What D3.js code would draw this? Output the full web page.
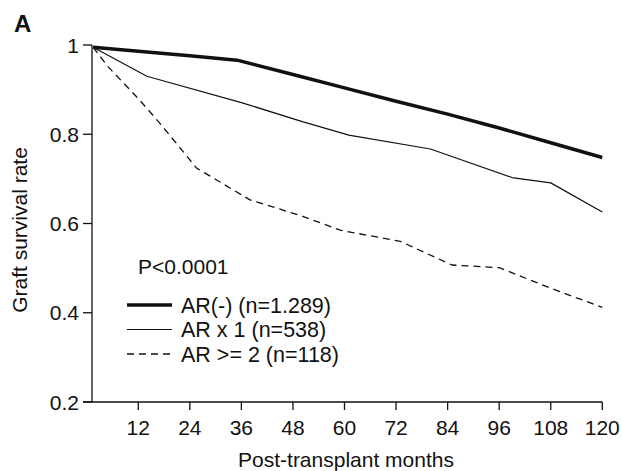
<html>
<head>
    <script src="https://d3js.org/d3.v7.min.js"></script>
</head>
<style>
body { margin: 0; background: #fff; }
text { font-family: "Liberation Sans", Arial, sans-serif; fill: #111; }
</style>
<body>
<script>
// data
var xTicks = [12, 24, 36, 48, 60, 72, 84, 96, 108, 120];
var yTicks = [0.2, 0.4, 0.6, 0.8, 1];

var noneMonths = [1.5, 12, 24, 35, 48, 60, 72, 84, 96, 108, 120];
var noneSurv   = [0.995, 0.986, 0.976, 0.966, 0.934, 0.904, 0.874, 0.845, 0.814, 0.781, 0.748];

var oneMonths = [1.5, 14, 36, 50, 61, 80, 99, 108, 120];
var oneSurv   = [0.995, 0.930, 0.871, 0.829, 0.798, 0.767, 0.703, 0.691, 0.626];

var twoMonths = [1.5, 5, 12, 17, 25.6, 38, 50, 59, 73, 85, 96, 108, 120];
var twoSurv   = [0.995, 0.951, 0.880, 0.825, 0.724, 0.653, 0.617, 0.585, 0.560, 0.507, 0.501, 0.455, 0.412];

var legendLabels = ["AR(-) (n=1.289)", "AR x 1 (n=538)", "AR >= 2 (n=118)"];

var w = 623, h = 471;
var svg = d3.select("body").append("svg").attr("width", w).attr("height", h);

var xScale = d3.scaleLinear().domain([0, 120]).range([86.7, 602.3]);
var yScale = d3.scaleLinear().domain([0.2, 1]).range([402, 45]);
var axisX = 92; // y axis sits a bit right of month 0

// x axis
var xAxis = svg.append("g").attr("transform", "translate(0,402)");
xAxis.append("line").attr("x1", 83).attr("x2", xScale(120)).attr("y1", 0).attr("y2", 0)
    .attr("stroke", "#111").attr("stroke-width", 1.3);
xAxis.selectAll(".xt").data(xTicks).enter().append("line")
    .attr("x1", function(d){ return xScale(d); }).attr("x2", function(d){ return xScale(d); })
    .attr("y1", 0).attr("y2", 8).attr("stroke", "#111").attr("stroke-width", 1.3);
xAxis.selectAll(".xl").data(xTicks).enter().append("text")
    .attr("x", function(d){ return xScale(d); }).attr("y", 33)
    .attr("text-anchor", "middle").style("font-size", "21px")
    .text(function(d){ return d; });

// y axis
var yAxis = svg.append("g");
yAxis.append("line").attr("x1", axisX).attr("x2", axisX).attr("y1", yScale(1)).attr("y2", yScale(0.2))
    .attr("stroke", "#111").attr("stroke-width", 1.3);
yAxis.selectAll(".yt").data(yTicks).enter().append("line")
    .attr("x1", 83).attr("x2", axisX)
    .attr("y1", function(d){ return yScale(d); }).attr("y2", function(d){ return yScale(d); })
    .attr("stroke", "#111").attr("stroke-width", 1.3);
yAxis.selectAll(".yl").data(yTicks).enter().append("text")
    .attr("x", 79).attr("y", function(d){ return yScale(d); }).attr("dy", ".36em")
    .attr("text-anchor", "end").style("font-size", "21px")
    .text(function(d){ return d; });

// titles
svg.append("text").attr("x", 346).attr("y", 467).attr("text-anchor", "middle")
    .style("font-size", "21px").text("Post-transplant months");
svg.append("text").attr("transform", "translate(27,230) rotate(-90)").attr("text-anchor", "middle")
    .style("font-size", "21px").text("Graft survival rate");
svg.append("text").attr("x", 14).attr("y", 32).style("font-size", "24px").style("font-weight", "bold").text("A");

// curves
var series = [
    {m: noneMonths, v: noneSurv, sw: 3.5, dash: null},
    {m: oneMonths, v: oneSurv, sw: 1.2, dash: null},
    {m: twoMonths, v: twoSurv, sw: 1.3, dash: "7,5"}
];
var line = d3.line().x(function(d){ return xScale(d[0]); }).y(function(d){ return yScale(d[1]); });
series.forEach(function(s){
    svg.append("path").attr("d", line(d3.zip(s.m, s.v)))
        .attr("fill", "none").attr("stroke", "#111").attr("stroke-width", s.sw)
        .attr("stroke-dasharray", s.dash).attr("stroke-linejoin", "round");
});

// legend
svg.append("text").attr("x", 138).attr("y", 274).style("font-size", "21px").text("P<0.0001");
series.forEach(function(s, i){
    var y = 305 + i * 24.5;
    svg.append("line").attr("x1", 127).attr("x2", 172).attr("y1", y).attr("y2", y)
        .attr("stroke", "#111").attr("stroke-width", s.sw).attr("stroke-dasharray", s.dash);
    svg.append("text").attr("x", 181).attr("y", y).attr("dy", ".36em")
        .style("font-size", "21.5px").text(legendLabels[i]);
});
</script>
</body>
</html>
